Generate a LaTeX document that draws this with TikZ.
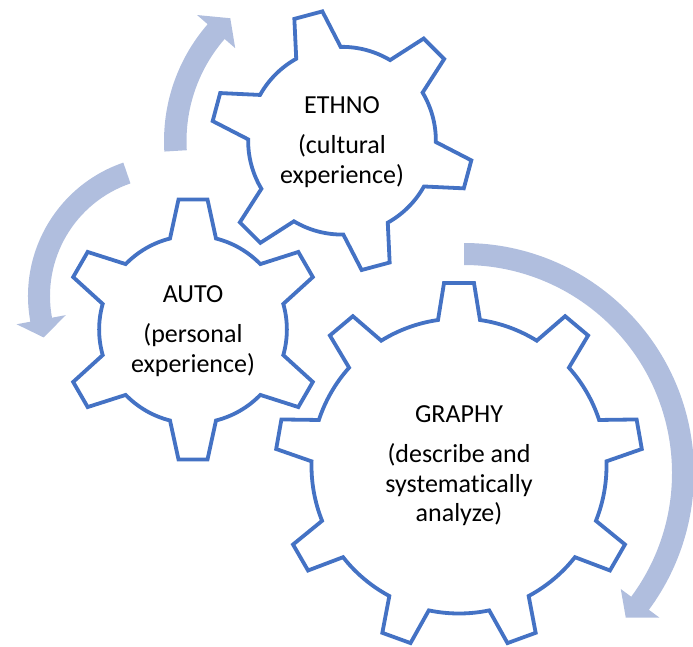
\documentclass[tikz,border=0pt]{standalone}
\usepackage{fontspec}
\setmainfont[Ligatures=NoCommon]{Carlito}
\definecolor{gearblue}{RGB}{68,114,196}
\definecolor{arrowblue}{RGB}{176,190,222}
\newcommand{\mygear}[9]{%
  \begin{scope}[shift={(#1,#2)}]
    \draw[gearline] ({#4-#7}:#6)
      \foreach \k in {0,...,#3}{
        -- ({#4+#5*\k-#7}:#6) -- ({#4+#5*\k-#9}:#8) -- ({#4+#5*\k+#9}:#8) -- ({#4+#5*\k+#7}:#6)
        arc[start angle={#4+#5*\k+#7}, end angle={#4+#5*(\k+1)-#7}, radius=#6]
      } -- cycle;
  \end{scope}}
\newcommand{\myarrow}[9]{%
  % cx, cy, ri, ro, a0, a1, a2, rt, e
  \begin{scope}[shift={(#1,#2)}]
    \fill[arrowfill] (#5:#4) arc[start angle=#5, end angle=#6, radius=#4]
      -- (#6:{#4+#9}) -- (#7:#8) -- (#6:{#3-#9}) -- (#6:#3)
      arc[start angle=#6, end angle=#5, radius=#3] -- cycle;
  \end{scope}}
\begin{document}
\begin{tikzpicture}[x=1pt,y=1pt,
  gearline/.style={draw=gearblue, line width=3.8pt, fill=white, line join=miter},
  arrowfill/.style={fill=arrowblue},
  lbl/.style={anchor=base, inner sep=0pt, font=\fontsize{26}{30}\selectfont, text=black}]
\useasboundingbox (0,0) rectangle (693,-646);
% arrows
\myarrow{342}{-141}{155.5}{178}{183.4}{139}{132.3}{166}{14}
\myarrow{169}{-296}{119}{141}{108.9}{190.5}{198.3}{132}{14}
\myarrow{464}{-473}{208}{230}{90}{-36.5}{-41.8}{217}{13}
% gears
\mygear{342}{-140.7}{5}{105}{60}{93.86}{14.18}{130.81}{6.364}
\mygear{193}{-329.5}{5}{90}{60}{93.86}{14.18}{130.81}{6.364}
\mygear{459}{-466}{8}{90}{40}{147.5}{8.185}{183.61}{4.686}
% labels
\node[lbl] (ethnoA) at (342,-113) {ETHNO};
\node[lbl] (ethnoB) at (342,-153) {(cultural};
\node[lbl] (ethnoC) at (342,-183) {experience)};
\node[lbl] (autoA) at (193,-302) {AUTO};
\node[lbl] (autoB) at (193,-342) {(personal};
\node[lbl] (autoC) at (193,-372) {experience)};
\node[lbl] (graphyA) at (459,-422) {GRAPHY};
\node[lbl] (graphyB) at (459,-462) {(describe and};
\node[lbl] (graphyC) at (459,-492) {systematically};
\node[lbl] (graphyD) at (459,-521) {analyze)};
\end{tikzpicture}
\end{document}
